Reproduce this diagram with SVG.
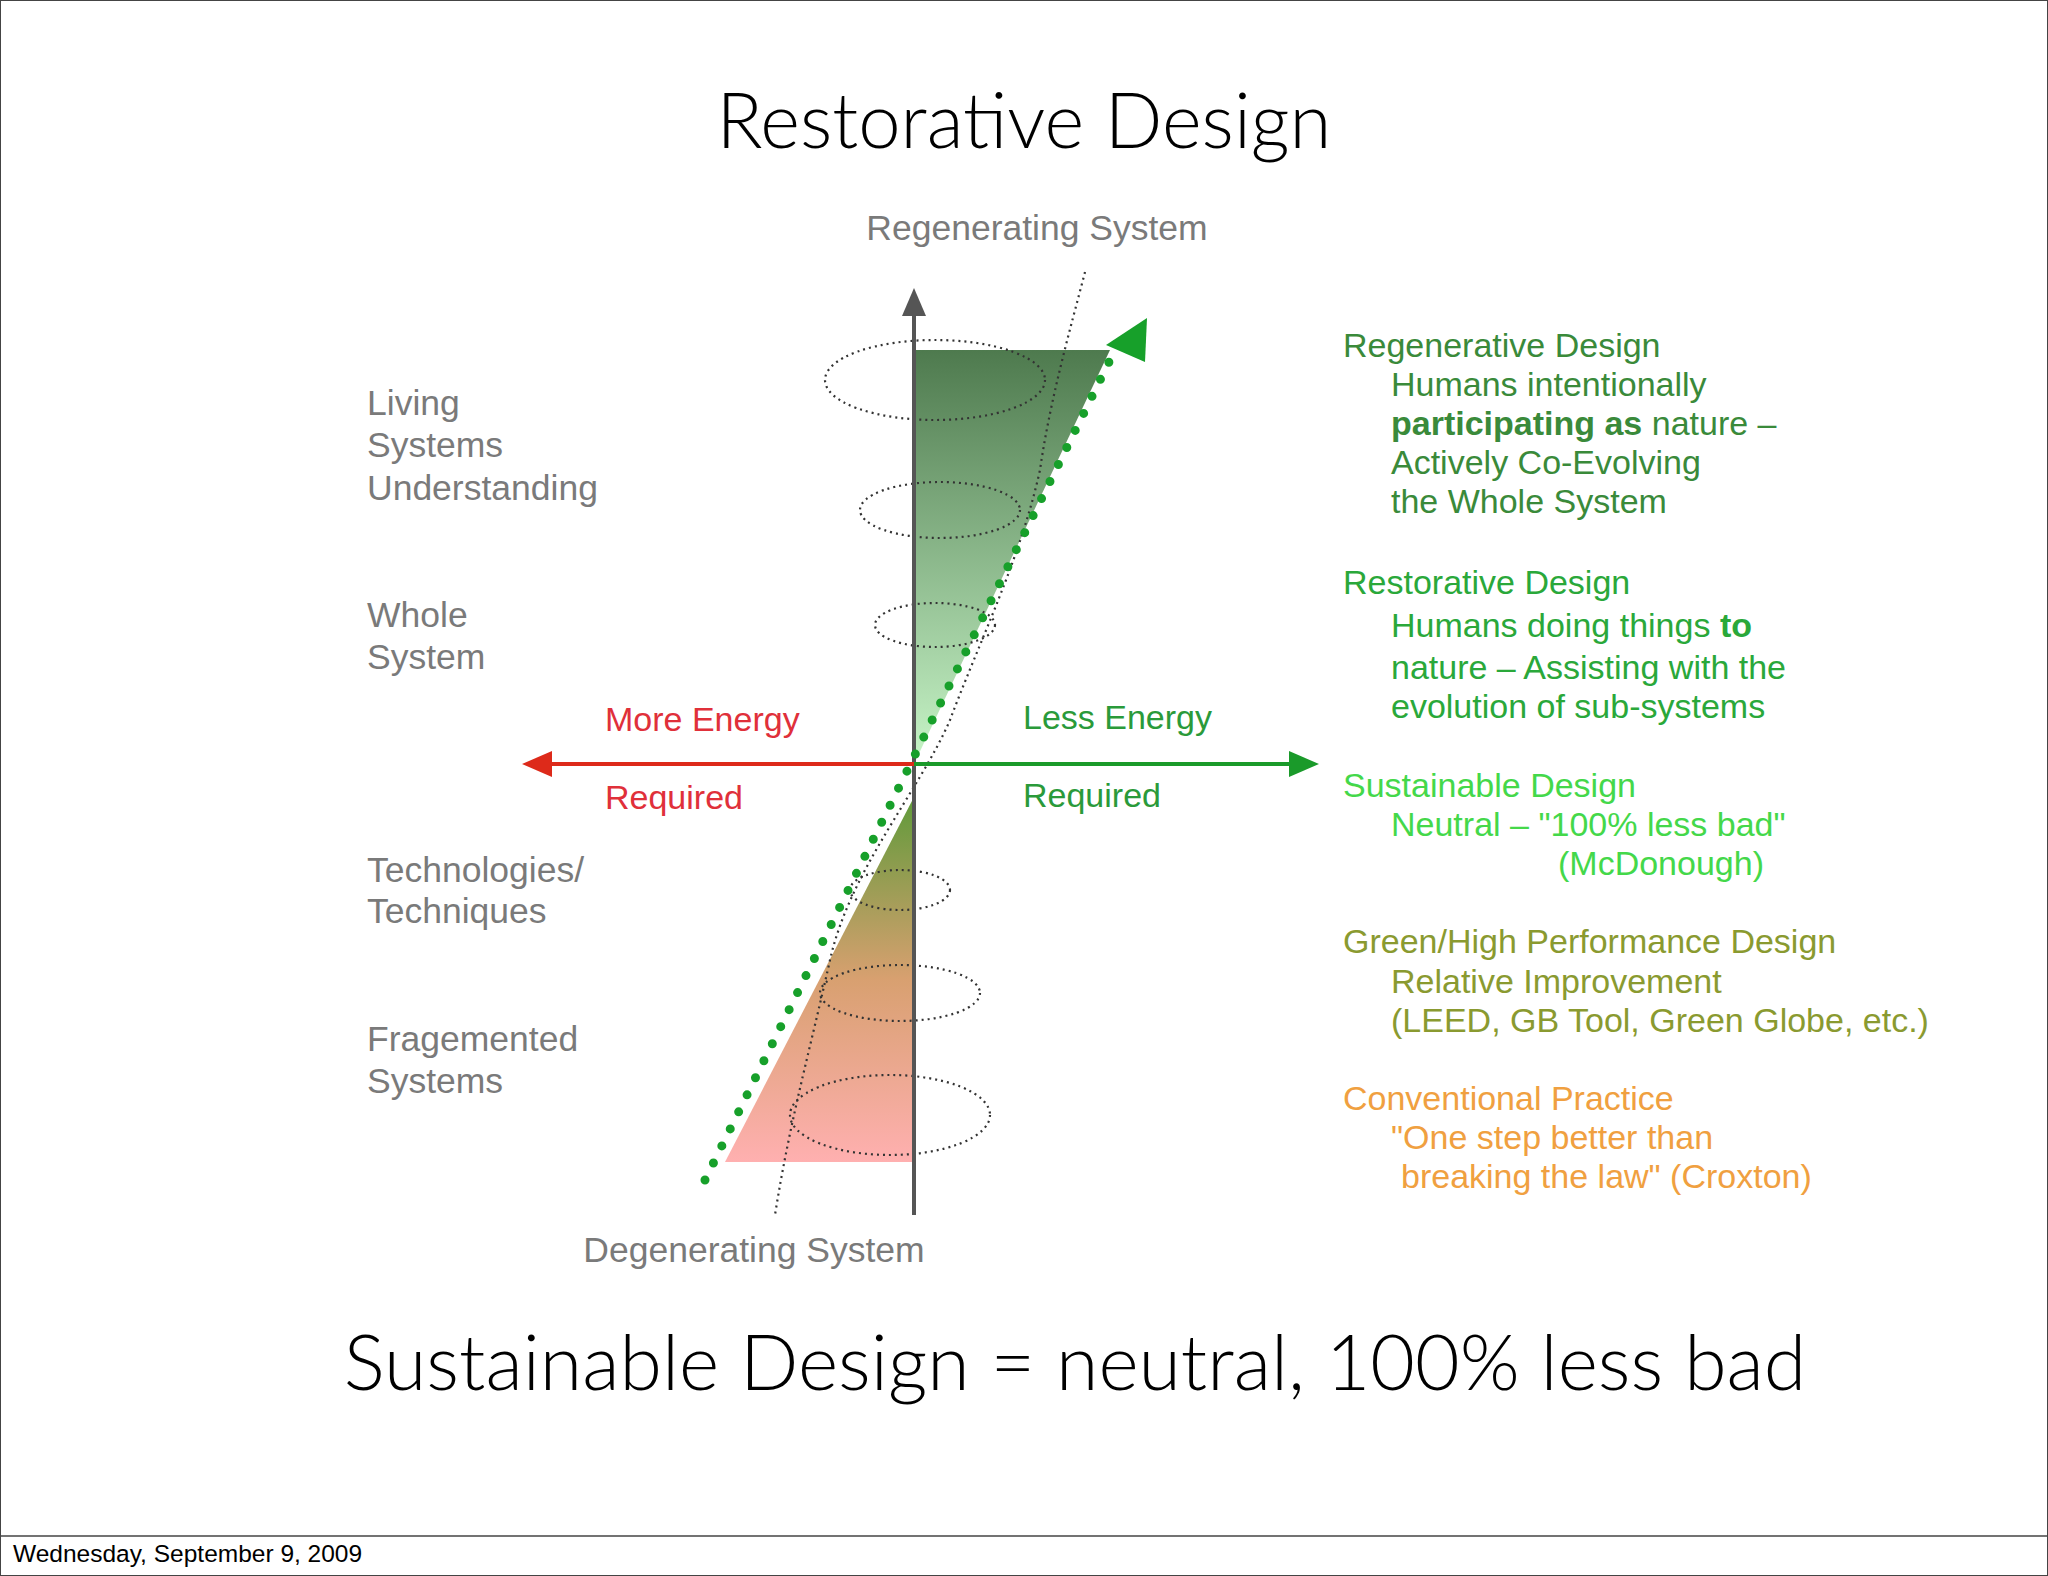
<svg xmlns="http://www.w3.org/2000/svg" width="2048" height="1576" viewBox="0 0 2048 1576">
<style>
.lbl{font-family:"Liberation Sans",Arial,sans-serif;font-size:35.5px;fill:#7a7a7a}
.big{font-family:Lato,"Open Sans",sans-serif;fill:#000}
.r{font-family:"Liberation Sans",Arial,sans-serif;font-size:34px}
.sp{fill:none;stroke:#333;stroke-width:2.2;stroke-dasharray:2 4}
</style>
<defs>
<linearGradient id="gu" x1="0" y1="0" x2="0" y2="1"><stop offset="0" stop-color="#4e7a4e"/><stop offset="1" stop-color="#c8f5c8"/></linearGradient>
<linearGradient id="gl" x1="0" y1="0" x2="0" y2="1"><stop offset="0" stop-color="#5f9a3a"/><stop offset="0.5" stop-color="#d8a070"/><stop offset="1" stop-color="#ffb0b0"/></linearGradient>
</defs>
<rect x="0.5" y="0.5" width="2047" height="1575" fill="#fff" stroke="#444"/>
<line x1="0" y1="1536" x2="2048" y2="1536" stroke="#444" stroke-width="1.5"/>
<text x="13" y="1562" font-family="Liberation Sans,Arial,sans-serif" font-size="24.5" fill="#000">Wednesday, September 9, 2009</text>
<text class="big" x="1024" y="148" font-size="76" font-weight="300" text-anchor="middle">Restorative Design</text>
<text class="big" x="1075" y="1390" font-size="77" font-weight="300" text-anchor="middle">Sustainable Design = neutral, 100% less bad</text>
<g id="triangles">
<polygon points="914,350 1110,350 914,764" fill="url(#gu)"/>
<polygon points="914,797 914,1162 725,1162" fill="url(#gl)"/>
</g>
<g id="spiral">
<ellipse class="sp" cx="935" cy="380" rx="110" ry="40"/>
<ellipse class="sp" cx="940" cy="510" rx="80" ry="28"/>
<ellipse class="sp" cx="935" cy="625" rx="60" ry="22"/>
<ellipse class="sp" cx="900" cy="890" rx="50" ry="20"/>
<ellipse class="sp" cx="900" cy="993" rx="80" ry="28"/>
<ellipse class="sp" cx="890" cy="1115" rx="100" ry="40"/>
<path class="sp" d="M1085,272 C1070,330 1050,400 1040,470 C1020,560 980,640 950,720 C920,790 850,870 830,960 C810,1050 790,1120 775,1215"/>
</g>
<g id="connectors">
<line x1="914" y1="1215" x2="914" y2="300" stroke="#555" stroke-width="4"/>
<path d="M914,288 L902,316 L926,316z" fill="#555"/>
<line x1="914" y1="764" x2="540" y2="764" stroke="#dd2a1a" stroke-width="4"/>
<path d="M522,764 L552,751 L552,777z" fill="#dd2a1a"/>
<line x1="914" y1="764" x2="1295" y2="764" stroke="#1a9a2a" stroke-width="4"/>
<path d="M1319,764 L1289,751 L1289,777z" fill="#1a9a2a"/>
<line x1="705" y1="1180" x2="1110" y2="360" stroke="#17a02a" stroke-width="9" stroke-linecap="round" stroke-dasharray="0 19"/>
<path d="M1147,318 L1145,362 L1106,345z" fill="#17a02a"/>
</g>
<g id="left-labels">
<text class="lbl" x="367" y="415">Living</text><text class="lbl" x="367" y="457">Systems</text><text class="lbl" x="367" y="500">Understanding</text>
<text class="lbl" x="367" y="627">Whole</text><text class="lbl" x="367" y="669">System</text>
<text class="lbl" x="367" y="882">Technologies/</text><text class="lbl" x="367" y="923">Techniques</text>
<text class="lbl" x="367" y="1051">Fragemented</text><text class="lbl" x="367" y="1093">Systems</text>
<text class="lbl" x="1037" y="240" text-anchor="middle" font-size="37">Regenerating System</text>
<text class="lbl" x="754" y="1262" text-anchor="middle" font-size="37">Degenerating System</text>
</g>
<g id="energy">
<text class="r" x="605" y="731" fill="#e0303a">More Energy</text>
<text class="r" x="605" y="809" fill="#e0303a">Required</text>
<text class="r" x="1023" y="729" fill="#2a9a3a">Less Energy</text>
<text class="r" x="1023" y="807" fill="#2a9a3a">Required</text>
</g>
<g id="legend" class="r">
<text x="1343" y="357" fill="#3a8a3a">Regenerative Design</text>
<text x="1391" y="396" fill="#3a8a3a">Humans intentionally</text>
<text x="1391" y="435" fill="#3a8a3a"><tspan font-weight="bold">participating as</tspan> nature –</text>
<text x="1391" y="474" fill="#3a8a3a">Actively Co-Evolving</text>
<text x="1391" y="513" fill="#3a8a3a">the Whole System</text>
<text x="1343" y="594" fill="#2aa83a">Restorative Design</text>
<text x="1391" y="637" fill="#2aa83a">Humans doing things <tspan font-weight="bold">to</tspan></text>
<text x="1391" y="679" fill="#2aa83a">nature – Assisting with the</text>
<text x="1391" y="718" fill="#2aa83a">evolution of sub-systems</text>
<text x="1343" y="797" fill="#44d84a">Sustainable Design</text>
<text x="1391" y="836" fill="#44d84a">Neutral – "100% less bad"</text>
<text x="1558" y="875" fill="#44d84a">(McDonough)</text>
<text x="1343" y="953" fill="#8a9a30">Green/High Performance Design</text>
<text x="1391" y="993" fill="#8a9a30">Relative Improvement</text>
<text x="1391" y="1032" fill="#8a9a30">(LEED, GB Tool, Green Globe, etc.)</text>
<text x="1343" y="1110" fill="#f0a040">Conventional Practice</text>
<text x="1391" y="1149" fill="#f0a040">"One step better than</text>
<text x="1401" y="1188" fill="#f0a040">breaking the law" (Croxton)</text>
</g>
</svg>
